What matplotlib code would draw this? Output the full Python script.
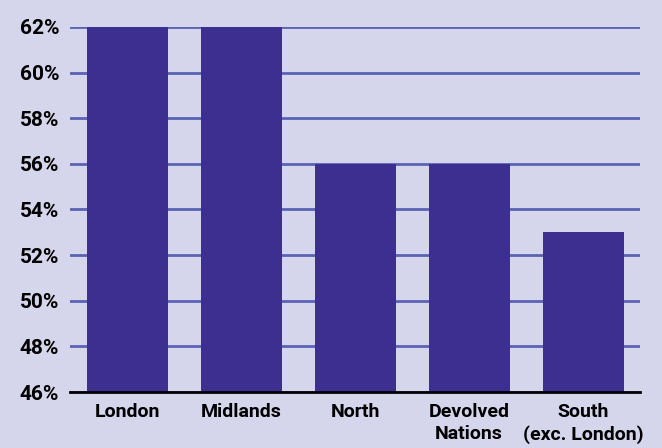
import matplotlib.pyplot as plt
from matplotlib import font_manager

regions = ["London", "Midlands", "North", "Devolved\nNations", "South\n(exc. London)"]
shares = [62, 62, 56, 56, 53]
ticks = [46, 48, 50, 52, 54, 56, 58, 60, 62]

bg = "#D5D5EB"
bar_col = "#3D2F8F"
grid_col = "#5B63B5"

names = {f.name for f in font_manager.fontManager.ttflist}
fam = "Liberation Sans Narrow" if "Liberation Sans Narrow" in names else "Roboto"
plt.rcParams["font.family"] = [fam, "DejaVu Sans"]

fig = plt.figure(figsize=(6.62, 4.48), dpi=100, facecolor=bg)
ax = fig.add_axes([0.106, 0.125, 0.861, 0.815], facecolor=bg)

x = range(len(regions))
ax.bar(x, shares, width=0.71, color=bar_col, zorder=3)

ax.set_ylim(46, 62)
ax.set_xlim(-0.5, len(regions) - 0.5)
ax.set_yticks(ticks)
ax.set_yticklabels([f"{t}%" for t in ticks], fontsize=15, fontweight="bold")
ax.set_xticks(list(x))
ax.set_xticklabels(regions, fontsize=14, fontweight="bold", linespacing=1.25)
ax.yaxis.grid(True, color=grid_col, linewidth=2, zorder=1)
ax.tick_params(axis="both", length=0)
ax.tick_params(axis="x", pad=8)
ax.tick_params(axis="y", pad=8)

for s in ["top", "right", "left"]:
    ax.spines[s].set_visible(False)
ax.spines["bottom"].set_linewidth(2)
ax.spines["bottom"].set_color("black")
ax.spines["bottom"].set_zorder(4)

fig.savefig("out.png", dpi=100, facecolor=bg)
